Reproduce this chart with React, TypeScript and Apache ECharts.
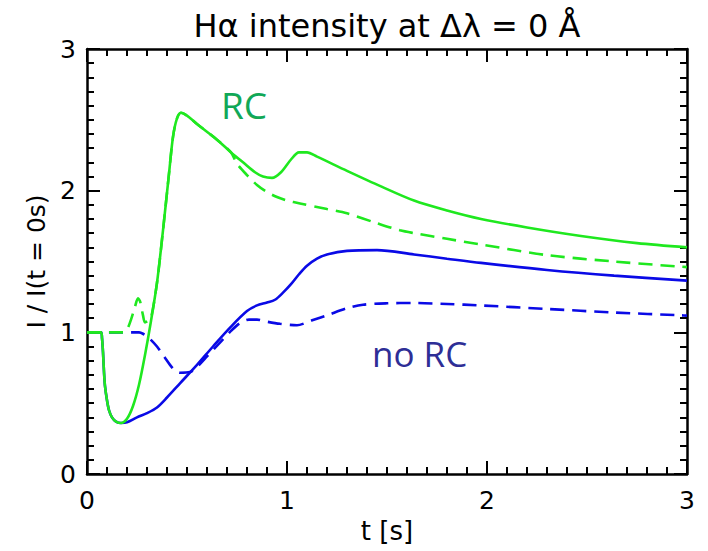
import React, { useEffect, useRef } from "react";
import * as echarts from "echarts";

const titleText = "Hα intensity at Δλ = 0 Å";
const xName = "t [s]";
const yName = "I / I(t = 0s)";

const tGreenSolid = [0, 0.07, 0.075, 0.08, 0.085, 0.09, 0.1, 0.11, 0.125, 0.145, 0.17, 0.2, 0.23, 0.26, 0.29, 0.32, 0.35, 0.38, 0.41, 0.43, 0.45, 0.47, 0.5, 0.55, 0.65, 0.72, 0.78, 0.84, 0.88, 0.925, 0.97, 1.02, 1.06, 1.1, 1.15, 1.3, 1.47, 1.635, 1.8, 1.97, 2.2, 2.47, 2.75, 3.0];
const vGreenSolid = [1, 1, 0.96, 0.86, 0.72, 0.62, 0.52, 0.45, 0.4, 0.37, 0.36, 0.39, 0.48, 0.63, 0.84, 1.08, 1.35, 1.72, 2.12, 2.38, 2.51, 2.55, 2.53, 2.47, 2.36, 2.27, 2.2, 2.13, 2.1, 2.09, 2.13, 2.22, 2.27, 2.27, 2.24, 2.14, 2.03, 1.93, 1.86, 1.8, 1.74, 1.68, 1.63, 1.6];

const tGreenDashed = [0, 0.18, 0.2, 0.22, 0.24, 0.255, 0.265, 0.28, 0.29, 0.305, 0.32, 0.35, 0.38, 0.41, 0.43, 0.45, 0.47, 0.5, 0.55, 0.65, 0.72, 0.75, 0.8, 0.85, 0.9, 0.95, 1.0, 1.065, 1.2, 1.3, 1.45, 1.565, 1.635, 1.8, 1.97, 2.3, 2.635, 3.0];
const vGreenDashed = [1, 1, 1.02, 1.09, 1.18, 1.24, 1.22, 1.12, 1.07, 1.08, 1.1, 1.35, 1.72, 2.12, 2.38, 2.51, 2.55, 2.53, 2.47, 2.36, 2.27, 2.19, 2.11, 2.04, 1.99, 1.955, 1.93, 1.91, 1.87, 1.84, 1.77, 1.72, 1.7, 1.66, 1.62, 1.545, 1.5, 1.46];

const tBlueSolid = [0, 0.07, 0.075, 0.08, 0.085, 0.09, 0.1, 0.11, 0.125, 0.145, 0.17, 0.2, 0.25, 0.3, 0.35, 0.4, 0.465, 0.55, 0.63, 0.72, 0.8, 0.85, 0.9, 0.94, 0.98, 1.02, 1.06, 1.1, 1.15, 1.2, 1.3, 1.45, 1.635, 1.8, 1.97, 2.3, 2.635, 3.0];
const vBlueSolid = [1, 1, 0.96, 0.86, 0.72, 0.62, 0.52, 0.45, 0.4, 0.37, 0.36, 0.365, 0.4, 0.43, 0.47, 0.54, 0.64, 0.77, 0.9, 1.04, 1.15, 1.19, 1.21, 1.23, 1.28, 1.34, 1.41, 1.47, 1.52, 1.55, 1.575, 1.58, 1.55, 1.52, 1.49, 1.44, 1.4, 1.365];

const tBlueDashed = [0, 0.26, 0.28, 0.31, 0.35, 0.39, 0.415, 0.44, 0.465, 0.515, 0.56, 0.6, 0.64, 0.68, 0.72, 0.765, 0.81, 0.85, 0.9, 0.965, 1.05, 1.1, 1.13, 1.2, 1.3, 1.38, 1.5, 1.63, 1.8, 1.97, 2.3, 2.635, 2.97, 3.0];
const vBlueDashed = [1, 1, 0.99, 0.96, 0.9, 0.82, 0.77, 0.73, 0.715, 0.72, 0.77, 0.83, 0.89, 0.95, 1.01, 1.065, 1.09, 1.09, 1.075, 1.06, 1.05, 1.07, 1.087, 1.12, 1.17, 1.195, 1.205, 1.207, 1.2, 1.19, 1.165, 1.14, 1.12, 1.118];

const labelRC = "RC";
const labelNoRC = "no RC";

const GREEN = "#1fe81f";
const BLUE = "#0a0ae6";
const FONT = "DejaVu Sans";
const LABEL_FONT = "Open Sans";

const zip = (t: number[], v: number[]) => t.map((x, i) => [x, v[i]]);

export default function App() {
  const ref = useRef<HTMLDivElement>(null);
  useEffect(() => {
    document.body.style.margin = "0";
    const chart = echarts.init(ref.current!, null, { renderer: "svg" });
    const axisCommon = {
      type: "value" as const,
      min: 0,
      max: 3,
      interval: 1,
      axisLine: { show: true, onZero: false, lineStyle: { color: "#000", width: 2.5 } },
      axisTick: { show: true, inside: true, length: 13, lineStyle: { color: "#000", width: 2 } },
      minorTick: { show: true, splitNumber: 10, length: 7, lineStyle: { color: "#000", width: 2 } },
      splitLine: { show: false },
    };
    const lineSeries = (name: string, data: number[][], color: string, dashed: boolean) => ({
      name,
      type: "line" as const,
      data,
      showSymbol: false,
      smooth: 0.3,
      lineStyle: { color, width: 2.6, type: dashed ? [14, 8] : "solid" },
      silent: true,
    });
    chart.setOption({
      animation: false,
      backgroundColor: "#fff",
      grid: { left: 87, top: 49, right: 21, bottom: 77, containLabel: false },
      xAxis: [
        {
          ...axisCommon,
          position: "bottom",
          name: xName,
          nameLocation: "middle",
          nameGap: 44,
          nameTextStyle: { fontFamily: FONT, fontSize: 26, color: "#000" },
          axisLabel: { margin: 14, fontFamily: FONT, fontSize: 25, color: "#000" },
        },
        { ...axisCommon, position: "top", axisLabel: { show: false } },
      ],
      yAxis: [
        {
          ...axisCommon,
          position: "left",
          name: yName,
          nameLocation: "middle",
          nameGap: 36,
          nameTextStyle: { fontFamily: FONT, fontSize: 25, color: "#000" },
          axisLabel: { margin: 11, fontFamily: FONT, fontSize: 25, color: "#000" },
        },
        { ...axisCommon, position: "right", axisLabel: { show: false } },
      ],
      series: [
        lineSeries("no RC dashed", zip(tBlueDashed, vBlueDashed), BLUE, true),
        lineSeries("no RC", zip(tBlueSolid, vBlueSolid), BLUE, false),
        lineSeries("RC dashed", zip(tGreenDashed, vGreenDashed), GREEN, true),
        lineSeries("RC", zip(tGreenSolid, vGreenSolid), GREEN, false),
      ],
      graphic: [
        {
          type: "text",
          x: 387,
          y: 26,
          style: { text: titleText, fontFamily: FONT, fontSize: 32, fill: "#000", textAlign: "center", textVerticalAlign: "middle" },
        },
        {
          type: "text",
          x: 221,
          y: 104,
          style: { text: labelRC, fontFamily: LABEL_FONT, fontSize: 37, fill: "#11a857", textAlign: "left", textVerticalAlign: "middle" },
        },
        {
          type: "text",
          x: 372,
          y: 353,
          style: { text: labelNoRC, fontFamily: LABEL_FONT, fontSize: 35, fill: "#2e2e96", textAlign: "left", textVerticalAlign: "middle" },
        },
      ],
    });
    return () => chart.dispose();
  }, []);
  return <div ref={ref} style={{ width: 708, height: 551 }} />;
}
